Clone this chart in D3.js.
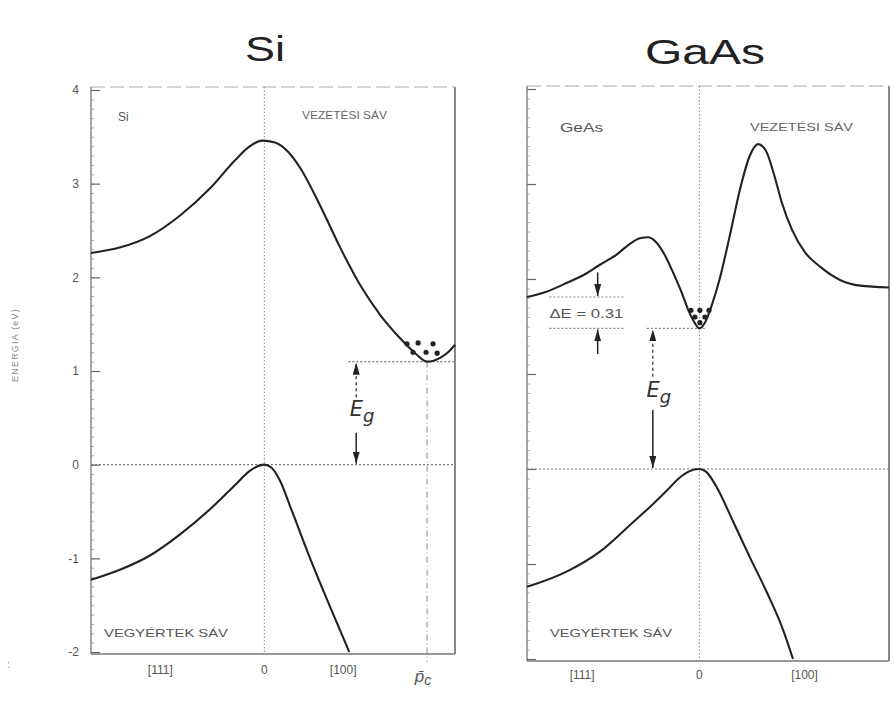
<!DOCTYPE html>
<html><head><meta charset="utf-8">
<script src="https://cdn.jsdelivr.net/npm/d3@7"></script>
<style>body{margin:0;background:#fff}svg{display:block}</style>
</head><body>
<svg id="chart" width="894" height="703"></svg>
<script>
// ---------- data ----------
const energyTicks = [-2, -1, 0, 1, 2, 3, 4];
const energyTickLabels = ["-2", "-1", "0", "1", "2", "3", "4"];

// Si bands: [k, E(eV)]
const siConduction = [[-1,2.26],[-0.83,2.32],[-0.66,2.44],[-0.486,2.66],[-0.313,2.95],[-0.169,3.25],[-0.083,3.40],[-0.013,3.46],[0.062,3.44],[0.137,3.34],[0.206,3.17],[0.321,2.77],[0.437,2.32],[0.552,1.92],[0.668,1.60],[0.783,1.35],[0.87,1.19],[0.939,1.10],[1.014,1.14],[1.06,1.20],[1.1,1.28]];
const siValence = [[-1,-1.23],[-0.83,-1.12],[-0.66,-0.97],[-0.49,-0.75],[-0.31,-0.47],[-0.17,-0.22],[-0.08,-0.06],[0,0],[0.04,-0.03],[0.09,-0.17],[0.15,-0.45],[0.264,-1.0],[0.38,-1.52],[0.49,-2.0]];
const siElectrons = [[0.823,1.29],[0.887,1.30],[0.973,1.29],[0.858,1.20],[0.933,1.20],[0.997,1.19]];
const siGap = 1.1;
const siMinK = 0.939;
const siKTicks = [-0.6, 0, 0.455];
const siKTickLabels = ["[111]", "0", "[100]"];

// GaAs bands: [k, E(eV)]
const gaasConduction = [[-1,1.81],[-0.896,1.86],[-0.768,1.96],[-0.664,2.05],[-0.577,2.15],[-0.478,2.26],[-0.403,2.37],[-0.345,2.43],[-0.298,2.44],[-0.252,2.39],[-0.2,2.25],[-0.153,2.07],[-0.101,1.85],[-0.066,1.68],[-0.031,1.55],[0,1.48],[0.032,1.54],[0.073,1.73],[0.119,2.01],[0.177,2.46],[0.235,2.94],[0.293,3.30],[0.34,3.42],[0.386,3.35],[0.433,3.10],[0.479,2.80],[0.537,2.52],[0.613,2.28],[0.7,2.13],[0.816,1.99],[0.932,1.93],[1.1,1.91]];
const gaasValence = [[-1,-1.24],[-0.77,-1.08],[-0.577,-0.87],[-0.385,-0.56],[-0.287,-0.40],[-0.19,-0.23],[-0.12,-0.10],[-0.06,-0.025],[0,0],[0.04,-0.03],[0.1,-0.19],[0.195,-0.55],[0.293,-0.93],[0.392,-1.30],[0.485,-1.69],[0.543,-2.0]];
const gaasElectrons = [[-0.049,1.67],[0.003,1.67],[0.056,1.67],[-0.026,1.60],[0.032,1.60],[0.003,1.54]];
const gaasGap = 1.48;
const gaasSideValley = 1.81;
const gaasDeltaLabel = "ΔE = 0.31";
const gaasKTicks = [-0.68, 0, 0.61];
const gaasKTickLabels = ["[111]", "0", "[100]"];

// ---------- drawing ----------
const svg = d3.select("#chart");
const defs = svg.append("defs");
defs.append("marker").attr("id","ah").attr("viewBox","0 0 10 10").attr("refX",10).attr("refY",5)
  .attr("markerWidth",12).attr("markerHeight",7).attr("preserveAspectRatio","none")
  .attr("orient","auto").attr("markerUnits","userSpaceOnUse")
  .append("path").attr("d","M0,0 L10,5 L0,10 Z").attr("fill","#222");

const FONT = "'Liberation Sans', Arial, sans-serif";
const lineGen = (x, y) => d3.line().x(d => x(d[0])).y(d => y(d[1])).curve(d3.curveMonotoneX);

function frame(g, x, y, showLabels) {
  const x0 = x.range()[0], x1 = x.range()[1];
  const yT = y(4) - 3, yB = y(-2) + 2;
  const minor = d3.axisLeft(y).tickValues(d3.range(-2, 4.001, 0.1)).tickSize(-3).tickFormat("");
  const mg = g.append("g").attr("transform", `translate(${x0},0)`).call(minor);
  mg.select(".domain").remove();
  mg.selectAll("line").attr("stroke", "#999").attr("stroke-width", 0.8);
  const major = d3.axisLeft(y).tickValues(energyTicks).tickSize(-9).tickPadding(12)
    .tickFormat((d, i) => showLabels ? energyTickLabels[i] : "");
  const ag = g.append("g").attr("transform", `translate(${x0},0)`).call(major);
  ag.select(".domain").remove();
  ag.selectAll("line").attr("stroke", "#666").attr("stroke-width", 1.2);
  ag.selectAll("text").attr("font-family", FONT).attr("font-size", 12).attr("fill", "#555");
  g.append("line").attr("x1", x0).attr("x2", x0).attr("y1", yT).attr("y2", yB).attr("stroke", "#777").attr("stroke-width", 1.3);
  g.append("line").attr("x1", x1).attr("x2", x1).attr("y1", yT).attr("y2", yB).attr("stroke", "#555").attr("stroke-width", 1.4);
  g.append("line").attr("x1", x0).attr("x2", x1).attr("y1", yB).attr("y2", yB).attr("stroke", "#777").attr("stroke-width", 1.5);
  g.append("line").attr("x1", x0).attr("x2", x1).attr("y1", yT).attr("y2", yT).attr("stroke", "#aaa").attr("stroke-width", 1.2).attr("stroke-dasharray", "14,5");
  g.append("line").attr("x1", x(0)).attr("x2", x(0)).attr("y1", yT).attr("y2", yB).attr("stroke", "#888").attr("stroke-width", 1).attr("stroke-dasharray", "1.5,2");
  g.append("line").attr("x1", x0).attr("x2", x1).attr("y1", y(0)).attr("y2", y(0)).attr("stroke", "#777").attr("stroke-width", 1.2).attr("stroke-dasharray", "2,2");
  return {yT, yB};
}

function bottomLabels(g, x, y, ticks, labels, dy) {
  g.selectAll(null).data(ticks).enter().append("text")
    .attr("x", d => x(d)).attr("y", y(-2) + dy).attr("text-anchor", "middle")
    .attr("font-family", FONT).attr("font-size", 12).attr("fill", "#555")
    .text((d, i) => labels[i]);
}

function curve(g, x, y, data) {
  g.append("path").datum(data).attr("d", lineGen(x, y)).attr("fill", "none")
    .attr("stroke", "#222").attr("stroke-width", 2.1).attr("stroke-linejoin", "round");
}

function dots(g, x, y, data) {
  g.selectAll(null).data(data).enter().append("circle")
    .attr("cx", d => x(d[0])).attr("cy", d => y(d[1])).attr("r", 2.6).attr("fill", "#222");
}

function arrow(g, xp, yFrom, yTo, dashed) {
  g.append("line").attr("x1", xp).attr("x2", xp).attr("y1", yFrom).attr("y2", yTo)
    .attr("stroke", "#222").attr("stroke-width", dashed ? 1.2 : 1.5)
    .attr("stroke-dasharray", dashed ? "3,3" : null).attr("marker-end", "url(#ah)");
}

function egLabel(g, xp, yp) {
  const t = g.append("text").attr("x", xp).attr("y", yp).attr("font-family", "'DejaVu Sans', sans-serif")
    .attr("fill", "#333").attr("text-anchor", "middle");
  t.append("tspan").attr("font-size", 21).attr("font-style", "italic").text("E");
  t.append("tspan").attr("font-size", 18).attr("font-style", "italic").attr("dy", 6).text("g");
}

// ===== Si panel =====
const xSi = d3.scaleLinear().domain([-1, 1.1]).range([91, 455]);
const ySi = d3.scaleLinear().domain([-2, 4]).range([652, 90]);
const gSi = svg.append("g");
const fSi = frame(gSi, xSi, ySi, true);
bottomLabels(gSi, xSi, ySi, siKTicks, siKTickLabels, 22);
const pc = gSi.append("text").attr("x", xSi(siMinK) - 4).attr("y", ySi(-2) + 30).attr("font-family", FONT)
  .attr("font-size", 17).attr("font-style", "italic").attr("fill", "#555").attr("text-anchor", "middle");
pc.append("tspan").text("p\u0304");
pc.append("tspan").attr("font-size", 14).attr("dy", 3).text("c");
gSi.append("line").attr("x1", xSi(0.485)).attr("x2", xSi(1.1)).attr("y1", ySi(siGap)).attr("y2", ySi(siGap))
  .attr("stroke", "#777").attr("stroke-width", 1.2).attr("stroke-dasharray", "2,2");
gSi.append("line").attr("x1", xSi(siMinK)).attr("x2", xSi(siMinK)).attr("y1", ySi(siGap)).attr("y2", fSi.yB + 8)
  .attr("stroke", "#888").attr("stroke-width", 1).attr("stroke-dasharray", "6,3,1,3");
curve(gSi, xSi, ySi, siConduction);
curve(gSi, xSi, ySi, siValence);
dots(gSi, xSi, ySi, siElectrons);
arrow(gSi, xSi(0.53), ySi(0.72), ySi(siGap) + 1, true);
arrow(gSi, xSi(0.53), ySi(0.34), ySi(0) - 1, false);
egLabel(gSi, xSi(0.53) + 6, ySi(0.52));
gSi.append("text").attr("x", 118).attr("y", 121).attr("font-family", FONT).attr("font-size", 12).attr("fill", "#555").text("Si");
gSi.append("text").attr("x", 302).attr("y", 119).attr("font-family", FONT).attr("font-size", 10).attr("fill", "#666")
  .attr("textLength", 85).attr("lengthAdjust", "spacingAndGlyphs").text("VEZETÉSI SÁV");
gSi.append("text").attr("x", 104).attr("y", 637).attr("font-family", FONT).attr("font-size", 11.5).attr("fill", "#555")
  .attr("textLength", 124).attr("lengthAdjust", "spacingAndGlyphs").text("VEGYÉRTEK SÁV");

// ===== GaAs panel =====
const xGa = d3.scaleLinear().domain([-1, 1.1]).range([527, 889]);
const yGa = d3.scaleLinear().domain([-2, 4]).range([659, 89]);
const gGa = svg.append("g");
frame(gGa, xGa, yGa, false);
bottomLabels(gGa, xGa, yGa, gaasKTicks, gaasKTickLabels, 20);
gGa.append("line").attr("x1", xGa(-0.87)).attr("x2", xGa(-0.43)).attr("y1", yGa(gaasSideValley)).attr("y2", yGa(gaasSideValley))
  .attr("stroke", "#888").attr("stroke-width", 1.1).attr("stroke-dasharray", "2,2");
gGa.append("line").attr("x1", xGa(-0.87)).attr("x2", xGa(-0.43)).attr("y1", yGa(gaasGap)).attr("y2", yGa(gaasGap))
  .attr("stroke", "#888").attr("stroke-width", 1.1).attr("stroke-dasharray", "2,2");
gGa.append("line").attr("x1", xGa(-0.305)).attr("x2", xGa(0.04)).attr("y1", yGa(gaasGap)).attr("y2", yGa(gaasGap))
  .attr("stroke", "#888").attr("stroke-width", 1.1).attr("stroke-dasharray", "2,2");
gGa.append("text").attr("x", xGa(-0.87)).attr("y", (yGa(gaasSideValley) + yGa(gaasGap)) / 2 + 5)
  .attr("font-family", FONT).attr("font-size", 12).attr("fill", "#555")
  .attr("textLength", 74).attr("lengthAdjust", "spacingAndGlyphs").text(gaasDeltaLabel);
arrow(gGa, xGa(-0.59), yGa(gaasSideValley + 0.26), yGa(gaasSideValley) - 1, false);
arrow(gGa, xGa(-0.59), yGa(gaasGap - 0.27), yGa(gaasGap) + 1, false);
curve(gGa, xGa, yGa, gaasConduction);
curve(gGa, xGa, yGa, gaasValence);
dots(gGa, xGa, yGa, gaasElectrons);
arrow(gGa, xGa(-0.27), yGa(0.97), yGa(gaasGap) + 1, true);
arrow(gGa, xGa(-0.27), yGa(0.62), yGa(0) - 1, false);
egLabel(gGa, xGa(-0.27) + 6, yGa(0.76));
gGa.append("text").attr("x", 560).attr("y", 132).attr("font-family", FONT).attr("font-size", 13).attr("fill", "#555")
  .attr("textLength", 43).attr("lengthAdjust", "spacingAndGlyphs").text("GeAs");
gGa.append("text").attr("x", 750).attr("y", 131).attr("font-family", FONT).attr("font-size", 10).attr("fill", "#666")
  .attr("textLength", 103).attr("lengthAdjust", "spacingAndGlyphs").text("VEZETÉSI SÁV");
gGa.append("text").attr("x", 550).attr("y", 637).attr("font-family", FONT).attr("font-size", 11.5).attr("fill", "#555")
  .attr("textLength", 122).attr("lengthAdjust", "spacingAndGlyphs").text("VEGYÉRTEK SÁV");

// ===== titles & axis label =====
svg.append("text").attr("x", 245).attr("y", 61).attr("font-family", FONT).attr("font-size", 35).attr("fill", "#222")
  .attr("textLength", 40).attr("lengthAdjust", "spacingAndGlyphs").text("Si");
svg.append("text").attr("x", 645).attr("y", 64).attr("font-family", FONT).attr("font-size", 35).attr("fill", "#222")
  .attr("textLength", 120).attr("lengthAdjust", "spacingAndGlyphs").text("GaAs");
svg.append("text").attr("transform", "translate(18,345) rotate(-90)").attr("text-anchor", "middle").attr("font-family", FONT)
  .attr("font-size", 9).attr("fill", "#888").attr("letter-spacing", 1.2).text("ENERGIA (eV)");
svg.append("text").attr("x", 7).attr("y", 668).attr("font-family", FONT).attr("font-size", 10).attr("fill", "#777").text(":");
</script>
</body></html>
